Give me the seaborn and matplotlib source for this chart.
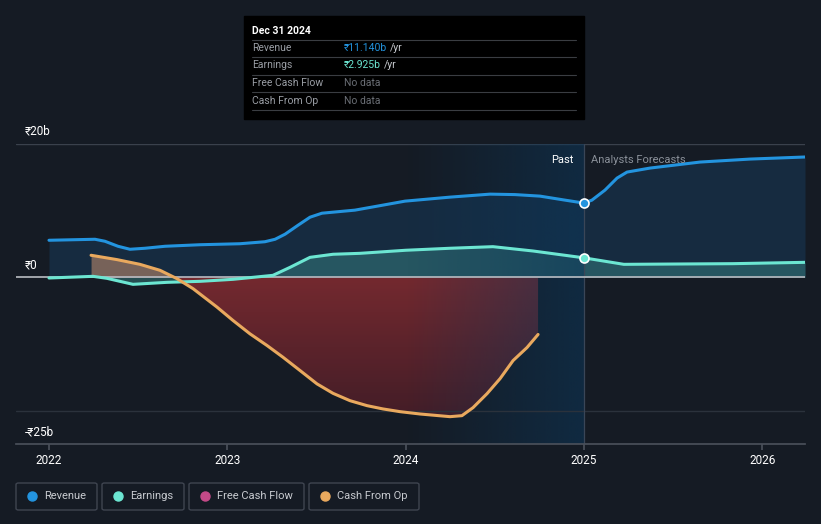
import numpy as np
import pandas as pd
import seaborn as sns
import matplotlib.pyplot as plt
from matplotlib.patches import Rectangle, FancyBboxPatch

# values in ₹ billions, x in fractional years
rev_x = [2022.0, 2022.258, 2022.314, 2022.387, 2022.454, 2022.538, 2022.651, 2022.847,
         2023.071, 2023.211, 2023.268, 2023.324, 2023.397, 2023.464, 2023.531, 2023.716,
         2023.856, 2023.997, 2024.249, 2024.474, 2024.614, 2024.754, 2024.894, 2025.0,
         2025.045, 2025.118, 2025.186, 2025.242, 2025.371, 2025.651, 2025.932, 2026.24]
rev_y = [5.56, 5.71, 5.41, 4.66, 4.21, 4.36, 4.66, 4.89,
         5.04, 5.34, 5.71, 6.47, 7.82, 9.02, 9.62, 10.08,
         10.75, 11.43, 12.03, 12.48, 12.41, 12.18, 11.58, 11.14,
         11.58, 13.08, 14.89, 15.79, 16.39, 17.29, 17.74, 18.05]

earn_x = [2022.0, 2022.247, 2022.325, 2022.471, 2022.662, 2022.847, 2023.032, 2023.256,
          2023.352, 2023.464, 2023.593, 2023.744, 2024.0, 2024.249, 2024.49, 2024.715,
          2025.0, 2025.224, 2025.836, 2026.24]
earn_y = [-0.1, 0.15, -0.15, -1.05, -0.75, -0.6, -0.3, 0.3,
          1.5, 3.0, 3.46, 3.6, 4.06, 4.36, 4.6, 3.95,
          2.925, 1.95, 2.05, 2.25]

cfo_x = [2022.236, 2022.381, 2022.51, 2022.623, 2022.718, 2022.808, 2022.942, 2023.032,
         2023.127, 2023.223, 2023.312, 2023.408, 2023.503, 2023.593, 2023.688, 2023.784,
         2023.873, 2023.969, 2024.081, 2024.249, 2024.316, 2024.378, 2024.457, 2024.53,
         2024.603, 2024.681, 2024.743]
cfo_y = [3.31, 2.66, 1.95, 1.05, -0.2, -1.7, -4.46, -6.47,
         -8.47, -10.23, -11.98, -13.98, -15.98, -17.4, -18.5, -19.25,
         -19.74, -20.15, -20.5, -20.9, -20.75, -19.55, -17.44, -15.19,
         -12.48, -10.53, -8.57]

year_ticks = [2022, 2023, 2024, 2025, 2026]
legend_names = ["Revenue", "Earnings", "Free Cash Flow", "Cash From Op"]
legend_colors = ["#2394df", "#6ce6d2", "#c44a88", "#e9a95e"]

BG = "#151b24"
FONT = ["Roboto", "DejaVu Sans"]

sns.set_theme(style="dark")
plt.rcParams["font.family"] = FONT

fig = plt.figure(figsize=(8.21, 5.24), dpi=100, facecolor=BG)
ax = fig.add_axes([16 / 821, 1 - 444 / 524, 789 / 821, 300 / 524])
ax.set_facecolor(BG)
ax.set_xlim(2021.815, 2026.24)
ax.set_ylim(-25, 20)

# area fills
ax.fill_between(rev_x, 0, rev_y, color="#17324d", alpha=0.7, lw=0, zorder=1)
ax.fill_between(earn_x, 0, earn_y, color="#3a8c8a", alpha=0.45, lw=0, zorder=1.2)
cfo = np.array(cfo_y)
ax.fill_between(cfo_x, 0, cfo, where=cfo >= 0, interpolate=True,
                color="#c8906e", alpha=0.55, lw=0, zorder=1.3)
neg = ax.fill_between(cfo_x, 0, cfo, where=cfo <= 0, interpolate=True,
                      color="none", lw=0, zorder=1.3)
# vertical red gradient clipped to the negative area
red = np.zeros((256, 1, 4))
top, bot = np.array([122, 42, 48]) / 255, np.array([70, 30, 40]) / 255
t = np.linspace(0, 1, 256)[:, None]
red[:, 0, :3] = top * (1 - t) + bot * t
red[:, 0, 3] = 0.95
im = ax.imshow(red, extent=[2022.2, 2024.8, -21, 0], aspect="auto", zorder=1.35,
               interpolation="bilinear")
im.set_clip_path(neg.get_paths()[0], transform=ax.transData)

# highlighted last-year band, transparent -> blue
band = np.zeros((1, 256, 4))
band[0, :, :3] = np.array([12, 55, 90]) / 255
band[0, :, 3] = np.linspace(0.0, 0.55, 256)
ax.imshow(band, extent=[2024.0, 2025.0, -25, 20], aspect="auto", zorder=2,
          interpolation="bilinear")

# grid lines
ax.axhline(20, color="#3a414c", lw=1, zorder=0.8)
ax.axhline(-20, color="#2b323c", lw=1, zorder=2.1)
ax.axhline(0, color="#b9bcc2", lw=1.2, zorder=3)
ax.axvline(2025.0, color="#3a4657", lw=0.9, zorder=2.2)

df_rev = pd.DataFrame({"x": rev_x, "y": rev_y})
df_earn = pd.DataFrame({"x": earn_x, "y": earn_y})
df_cfo = pd.DataFrame({"x": cfo_x, "y": cfo_y})
sns.lineplot(data=df_rev, x="x", y="y", color=legend_colors[0], lw=2.2, ax=ax, zorder=4)
sns.lineplot(data=df_earn, x="x", y="y", color=legend_colors[1], lw=2.2, ax=ax, zorder=4)
sns.lineplot(data=df_cfo, x="x", y="y", color=legend_colors[3], lw=2.2, ax=ax, zorder=4)

# markers at Dec 31 2024
ax.scatter([2025.0], [11.14], s=42, color=legend_colors[0], edgecolor="white", lw=1.2, zorder=5)
ax.scatter([2025.0], [2.925], s=42, color=legend_colors[1], edgecolor="white", lw=1.2, zorder=5)

ax.text(2024.94, 17.6, "Past", color="white", fontsize=8, ha="right", va="center", zorder=6)
ax.text(2025.04, 17.6, "Analysts Forecasts", color="#8a9099", fontsize=8, ha="left", va="center", zorder=6)

# axes styling
ax.set_xlabel("")
ax.set_ylabel("")
ax.set_yticks([])
ax.set_xticks(year_ticks)
ax.set_xticklabels([str(y) for y in year_ticks], color="white", fontsize=8.5)
ax.tick_params(axis="x", length=4, color="#4a505a", pad=3, bottom=True)
for s in ["top", "right", "left"]:
    ax.spines[s].set_visible(False)
ax.spines["bottom"].set_color("#4a505a")
ax.grid(False)

for lab, ypx in [("₹20b", 131), ("₹0", 265), ("-₹25b", 432)]:
    fig.text(25 / 821, 1 - ypx / 524, lab, color="white", fontsize=8.5, ha="left", va="center")

# tooltip box
fig.patches.append(Rectangle((244 / 821, 1 - 119 / 524), 340 / 821, 103 / 524,
                             transform=fig.transFigure, color="black", zorder=10))
fig.text(252 / 821, 1 - 31 / 524, "Dec 31 2024", color="white", fontsize=7.5,
         fontweight="bold", va="center", zorder=11)
rows = [("Revenue", "₹11.140b", legend_colors[0]), ("Earnings", "₹2.925b", legend_colors[1]),
        ("Free Cash Flow", "No data", None), ("Cash From Op", "No data", None)]
fig.canvas.draw()
for i, (name, val, col) in enumerate(rows):
    yc = 48 + i * 17.5
    fig.text(252 / 821, 1 - yc / 524, name, color="#9a9ea5", fontsize=7.5, va="center", zorder=11)
    if col:
        t = fig.text(344 / 821, 1 - yc / 524, val, color=col, fontsize=7.5, va="center", zorder=11)
        bb = t.get_window_extent(renderer=fig.canvas.get_renderer())
        fig.text((bb.x1 + 3) / 821, 1 - yc / 524, "/yr", color="#c8cbd0", fontsize=7.5,
                 va="center", zorder=11)
    else:
        fig.text(344 / 821, 1 - yc / 524, val, color="#6a6e75", fontsize=7.5, va="center", zorder=11)
for ypx in [40, 57, 75, 92, 110]:
    fig.add_artist(plt.Line2D([252 / 821, 576 / 821], [1 - ypx / 524] * 2, color="#3a3d42",
                              lw=0.8, zorder=11))

# legend boxes
boxes = [(16, 97), (102, 184), (189, 304), (309, 419)]
for (x0, x1), name, col in zip(boxes, legend_names, legend_colors):
    fig.patches.append(FancyBboxPatch((x0 / 821, 1 - 510 / 524), (x1 - x0) / 821, 27 / 524,
                                      boxstyle="round,pad=0,rounding_size=0.003",
                                      transform=fig.transFigure, fc=BG, ec="#3f4550", lw=1))
    fig.add_artist(plt.Line2D([(x0 + 16) / 821], [1 - 496 / 524], marker="o", ms=6.5,
                              color=col, transform=fig.transFigure))
    fig.text((x0 + 28) / 821, 1 - 496 / 524, name, color="#c8cbd0", fontsize=8, va="center")

fig.savefig("out.png", dpi=100, facecolor=BG)
